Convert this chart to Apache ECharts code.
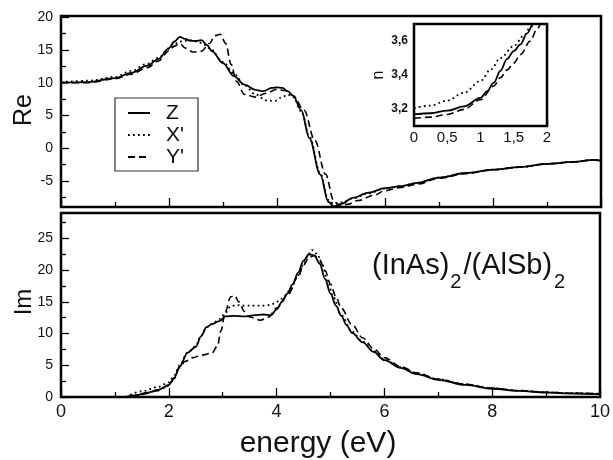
<!DOCTYPE html>
<html><head><meta charset="utf-8">
<script src="https://cdn.jsdelivr.net/npm/echarts@6/dist/echarts.min.js"></script>
<style>html,body{margin:0;padding:0;background:#fff}#c{width:613px;height:460px}</style>
</head><body><div id="c"></div>
<script>
// ---------- Re panel ----------
const reZ_E = [0, 0.5, 1.0, 1.3, 1.6, 1.8, 2.0, 2.1, 2.2, 2.3, 2.4, 2.5, 2.6, 2.7, 2.8, 3.0, 3.2, 3.4, 3.6, 3.75, 3.9, 4.0, 4.1, 4.2, 4.3, 4.45, 4.6, 4.8, 4.95, 5.05, 5.2, 5.4, 5.7, 6.0, 6.3, 6.6, 7.0, 7.5, 8.0, 8.5, 9.0, 9.5, 9.85, 10];
const reZ_V = [10.0, 10.1, 10.7, 11.5, 12.6, 13.6, 15.3, 16.3, 17.0, 16.7, 16.4, 16.4, 16.5, 15.8, 14.8, 13.0, 11.0, 9.7, 8.9, 8.7, 9.2, 9.3, 9.2, 8.7, 8.0, 5.8, 1.5, -4.0, -8.2, -8.9, -8.5, -7.6, -6.8, -6.1, -5.8, -5.3, -4.5, -3.8, -3.3, -2.9, -2.4, -2.1, -1.8, -1.9];
const reX_E = [0, 0.5, 1.0, 1.3, 1.6, 1.8, 2.0, 2.2, 2.4, 2.6, 2.75, 3.0, 3.2, 3.4, 3.6, 3.8, 3.95, 4.1, 4.2, 4.3, 4.45, 4.6, 4.8, 4.95, 5.05, 5.2, 5.4, 5.7, 6.0, 6.3, 6.6, 7.0, 7.5, 8.0, 8.5, 9.0, 9.5, 9.85, 10];
const reX_V = [10.1, 10.3, 10.9, 11.8, 12.9, 13.8, 15.2, 16.3, 16.5, 16.1, 15.3, 13.2, 11.4, 9.6, 8.2, 7.3, 7.2, 7.8, 8.2, 7.8, 5.6, 1.8, -3.8, -7.9, -8.5, -8.3, -7.7, -6.9, -6.2, -5.8, -5.3, -4.5, -3.8, -3.3, -2.9, -2.4, -2.1, -1.8, -1.9];
const reY_E = [0, 0.5, 1.0, 1.3, 1.6, 1.8, 2.0, 2.1, 2.2, 2.3, 2.45, 2.6, 2.75, 2.85, 2.95, 3.05, 3.15, 3.25, 3.4, 3.6, 3.8, 4.0, 4.15, 4.3, 4.5, 4.7, 4.9, 5.05, 5.15, 5.3, 5.5, 5.8, 6.0, 6.3, 6.6, 7.0, 7.5, 8.0, 8.5, 9.0, 9.5, 9.85, 10];
const reY_V = [10.0, 10.0, 10.6, 11.3, 12.3, 13.3, 14.9, 15.6, 16.0, 15.3, 14.7, 14.8, 16.0, 17.2, 17.4, 16.0, 12.8, 10.2, 8.2, 7.8, 8.4, 9.0, 8.8, 8.0, 5.8, 1.2, -4.0, -8.0, -8.8, -8.6, -8.0, -7.2, -6.5, -6.0, -5.5, -4.6, -3.9, -3.3, -2.9, -2.4, -2.1, -1.8, -1.9];

// ---------- Im panel ----------
const imZ_E = [1.2, 1.4, 1.6, 1.8, 2.0, 2.1, 2.2, 2.35, 2.5, 2.6, 2.7, 2.8, 2.95, 3.05, 3.2, 3.4, 3.6, 3.75, 3.9, 4.0, 4.1, 4.2, 4.3, 4.4, 4.5, 4.6, 4.7, 4.8, 4.9, 5.0, 5.1, 5.2, 5.3, 5.4, 5.6, 5.8, 6.0, 6.3, 6.6, 7.0, 7.5, 8.0, 8.5, 9.0, 9.5, 10];
const imZ_V = [0, 0.3, 0.7, 1.1, 1.9, 3.0, 4.8, 7.0, 7.9, 9.6, 11.0, 11.5, 12.0, 12.7, 12.8, 12.7, 12.9, 13.0, 12.9, 13.8, 15.0, 16.3, 17.8, 19.6, 21.5, 22.5, 22.3, 21.0, 18.6, 16.3, 14.4, 12.8, 11.3, 10.1, 8.6, 7.1, 5.8, 4.6, 3.6, 2.7, 1.9, 1.3, 0.95, 0.7, 0.55, 0.45];
const imX_E = [1.2, 1.5, 1.8, 2.0, 2.1, 2.2, 2.35, 2.5, 2.6, 2.7, 2.8, 2.95, 3.05, 3.15, 3.25, 3.4, 3.6, 3.8, 3.95, 4.1, 4.25, 4.4, 4.5, 4.6, 4.65, 4.75, 4.85, 4.95, 5.05, 5.2, 5.4, 5.6, 5.8, 6.0, 6.3, 6.6, 7.0, 7.5, 8.0, 8.5, 9.0, 9.5, 10];
const imX_V = [0, 0.9, 1.6, 2.3, 3.3, 5.0, 7.0, 8.0, 9.7, 11.0, 11.5, 12.3, 13.3, 14.3, 14.5, 14.4, 14.4, 14.4, 14.7, 15.5, 16.8, 19.2, 21.0, 22.6, 23.2, 22.6, 20.8, 18.2, 15.8, 12.9, 10.3, 8.7, 7.2, 5.9, 4.7, 3.7, 2.8, 2.0, 1.4, 1.0, 0.75, 0.6, 0.5];
const imY_E = [1.3, 1.5, 1.8, 2.0, 2.1, 2.2, 2.3, 2.45, 2.6, 2.8, 2.9, 2.97, 3.05, 3.15, 3.22, 3.3, 3.4, 3.5, 3.7, 3.85, 4.0, 4.2, 4.4, 4.5, 4.6, 4.7, 4.8, 4.9, 5.0, 5.1, 5.2, 5.4, 5.6, 5.8, 6.0, 6.3, 6.6, 7.0, 7.5, 8.0, 8.5, 9.0, 9.5, 10];
const imY_V = [0, 0.4, 1.0, 1.8, 2.9, 4.6, 5.6, 6.2, 6.6, 6.9, 8.0, 10.5, 13.5, 15.8, 16.0, 15.0, 13.5, 12.6, 12.1, 12.6, 14.0, 16.0, 19.0, 20.8, 22.0, 22.3, 21.6, 19.9, 17.8, 15.8, 14.0, 11.4, 9.3, 7.6, 6.2, 4.8, 3.8, 2.8, 2.0, 1.4, 1.0, 0.75, 0.6, 0.5];

// ---------- inset n ----------
const nZ_E = [0, 0.25, 0.5, 0.75, 1.0, 1.1, 1.2, 1.3, 1.4, 1.5, 1.6, 1.7, 1.8, 1.86];
const nZ_V = [3.168, 3.175, 3.19, 3.215, 3.265, 3.305, 3.355, 3.425, 3.495, 3.54, 3.58, 3.645, 3.705, 3.74];
const nX_E = [0, 0.25, 0.5, 0.75, 1.0, 1.15, 1.3, 1.5, 1.65, 1.75, 1.82];
const nX_V = [3.205, 3.22, 3.25, 3.295, 3.365, 3.43, 3.50, 3.57, 3.63, 3.68, 3.72];
const nY_E = [0, 0.25, 0.5, 0.75, 1.0, 1.2, 1.3, 1.4, 1.5, 1.6, 1.75, 1.85, 1.92];
const nY_V = [3.145, 3.152, 3.168, 3.198, 3.255, 3.335, 3.385, 3.43, 3.47, 3.52, 3.60, 3.67, 3.72];

// ---------- ticks / labels ----------
const reMajor = [-5, 0, 5, 10, 15, 20];
const reMinor = [-7.5, -2.5, 2.5, 7.5, 12.5, 17.5];
const imMajor = [0, 5, 10, 15, 20, 25];
const imMinor = [2.5, 7.5, 12.5, 17.5, 22.5, 27.5];
const nMajor = [3.2, 3.4, 3.6];
const nMinor = [3.3, 3.5];
const seriesNames = ['Z', "X'", "Y'"];

const FONT = '"Liberation Sans", Arial, sans-serif';
const pairs = (e, v) => e.map((x, i) => [x, v[i]]);
const styles = {
  'Z': { type: 'solid', width: 1.8 },
  "X'": { type: [1.8, 3.2], width: 1.8 },
  "Y'": { type: [7, 4], width: 1.6 }
};
function mk(name, data, xi, yi) {
  return {
    type: 'line', name, data, xAxisIndex: xi, yAxisIndex: yi,
    symbol: 'none', smooth: 0.35, smoothMonotone: 'x', clip: true,
    lineStyle: Object.assign({ color: '#000' }, styles[name]),
    itemStyle: { color: '#000' }, silent: true
  };
}
const tickStyle = { color: '#000', width: 1.3 };
function yAx(grid, min, max, vals, len, labels, extra) {
  return Object.assign({
    type: 'value', gridIndex: grid, min, max,
    axisLine: { show: false, onZero: false }, splitLine: { show: false },
    axisTick: { show: true, inside: true, length: len, customValues: vals, lineStyle: tickStyle },
    axisLabel: labels ? Object.assign({ show: true, customValues: vals, color: '#111', fontFamily: FONT }, labels) : { show: false }
  }, extra || {});
}
function xAx(grid, max, interval, len, labels, extra) {
  return Object.assign({
    type: 'value', gridIndex: grid, min: 0, max, interval,
    axisLine: { show: false, onZero: false }, splitLine: { show: false },
    axisTick: { inside: true, length: len, lineStyle: tickStyle },
    minorTick: { show: true, splitNumber: 2, length: extra && extra.minorLen || 5, lineStyle: tickStyle },
    axisLabel: labels ? Object.assign({ show: true, color: '#111', fontFamily: FONT }, labels) : { show: false }
  }, extra || {});
}

const chart = echarts.init(document.getElementById('c'), null, { renderer: 'canvas' });

// measure widths for formula label layout
const cv = document.createElement('canvas').getContext('2d');
function tw(t, size) { cv.font = size + 'px ' + FONT; return cv.measureText(t).width; }
const fMain = 29, fSub = 20, fx0 = 372;
const w1 = tw('(InAs)', fMain), w2 = tw('2', fSub), w3 = tw('/(AlSb)', fMain);

chart.setOption({
  animation: false,
  backgroundColor: '#fff',
  grid: [
    { left: 61, top: 16, width: 540, height: 191, show: true, borderColor: '#000', borderWidth: 2.5, backgroundColor: 'transparent' },
    { left: 61, top: 213, width: 540, height: 184, show: true, borderColor: '#000', borderWidth: 2.5, backgroundColor: 'transparent' },
    { left: 414, top: 24, width: 133, height: 102, show: true, borderColor: '#000', borderWidth: 2.5, backgroundColor: '#fff', z: 5 }
  ],
  legend: {
    data: seriesNames, orient: 'vertical', left: 115, top: 98,
    borderColor: '#333', borderWidth: 1.2, padding: [4, 14, 3, 12],
    itemWidth: 22, itemHeight: 14, itemGap: 0, selectedMode: false,
    itemStyle: { color: 'transparent', borderColor: 'transparent', borderWidth: 0, opacity: 0 },
    textStyle: { fontSize: 21, fontFamily: FONT, color: '#111', lineHeight: 22, padding: [0, 0, 0, 11] }
  },
  xAxis: [
    xAx(0, 10, 2, 9, null),
    xAx(1, 10, 2, 9, { fontSize: 18, margin: 6 }),
    xAx(2, 2, 0.5, 7, { fontSize: 15, margin: 4, formatter: v => String(v).replace('.', ',') }, { minorLen: 7 }),
    xAx(2, 2, 0.5, 7, null, { position: 'top', minorLen: 7 })
  ],
  yAxis: [
    yAx(0, -9, 20.2, reMajor, 8, { fontSize: 14, margin: 8 }, { position: 'left' }),
    yAx(0, -9, 20.2, reMinor, 5, null, { position: 'left' }),
    yAx(1, 0, 29, imMajor, 8, { fontSize: 14, margin: 8 }, { position: 'left' }),
    yAx(1, 0, 29, imMinor, 5, null, { position: 'left' }),
    yAx(2, 3.1, 3.7, nMajor, 9, { fontSize: 12, fontWeight: 'bold', margin: 6, formatter: v => v.toFixed(1).replace('.', ',') }, { position: 'left' }),
    yAx(2, 3.1, 3.7, nMinor, 5, null, { position: 'left' }),
    yAx(2, 3.1, 3.7, nMajor, 7, null, { position: 'right' }),
    yAx(2, 3.1, 3.7, nMinor, 5, null, { position: 'right' })
  ],
  series: [
    mk('Z', pairs(reZ_E, reZ_V), 0, 0),
    mk("X'", pairs(reX_E, reX_V), 0, 0),
    mk("Y'", pairs(reY_E, reY_V), 0, 0),
    mk('Z', pairs(imZ_E, imZ_V), 1, 2),
    mk("X'", pairs(imX_E, imX_V), 1, 2),
    mk("Y'", pairs(imY_E, imY_V), 1, 2),
    Object.assign(mk('Z', pairs(nZ_E, nZ_V), 2, 4), { z: 6 }),
    Object.assign(mk("X'", pairs(nX_E, nX_V), 2, 4), { z: 6 }),
    Object.assign(mk("Y'", pairs(nY_E, nY_V), 2, 4), { z: 6 })
  ],
  graphic: [
    { type: 'text', x: 24, y: 110, rotation: Math.PI / 2, style: { text: 'Re', font: '25px ' + FONT, fill: '#111', align: 'center', verticalAlign: 'middle' } },
    { type: 'text', x: 24, y: 302, rotation: Math.PI / 2, style: { text: 'Im', font: '24px ' + FONT, fill: '#111', align: 'center', verticalAlign: 'middle' } },
    { type: 'text', x: 318, y: 444, style: { text: 'energy (eV)', font: '30px ' + FONT, fill: '#111', align: 'center', verticalAlign: 'middle' } },
    { type: 'text', x: 379, y: 75, rotation: Math.PI / 2, z: 10, style: { text: 'n', font: '16px ' + FONT, fill: '#111', align: 'center', verticalAlign: 'middle' } },
    { type: 'text', x: fx0, y: 266, style: { text: '(InAs)', font: fMain + 'px ' + FONT, fill: '#111', align: 'left', verticalAlign: 'middle' } },
    { type: 'text', x: fx0 + w1 + 1, y: 282, style: { text: '2', font: fSub + 'px ' + FONT, fill: '#111', align: 'left', verticalAlign: 'middle' } },
    { type: 'text', x: fx0 + w1 + w2 + 3, y: 266, style: { text: '/(AlSb)', font: fMain + 'px ' + FONT, fill: '#111', align: 'left', verticalAlign: 'middle' } },
    { type: 'text', x: fx0 + w1 + w2 + w3 + 5, y: 282, style: { text: '2', font: fSub + 'px ' + FONT, fill: '#111', align: 'left', verticalAlign: 'middle' } }
  ]
});
</script>
</body></html>
